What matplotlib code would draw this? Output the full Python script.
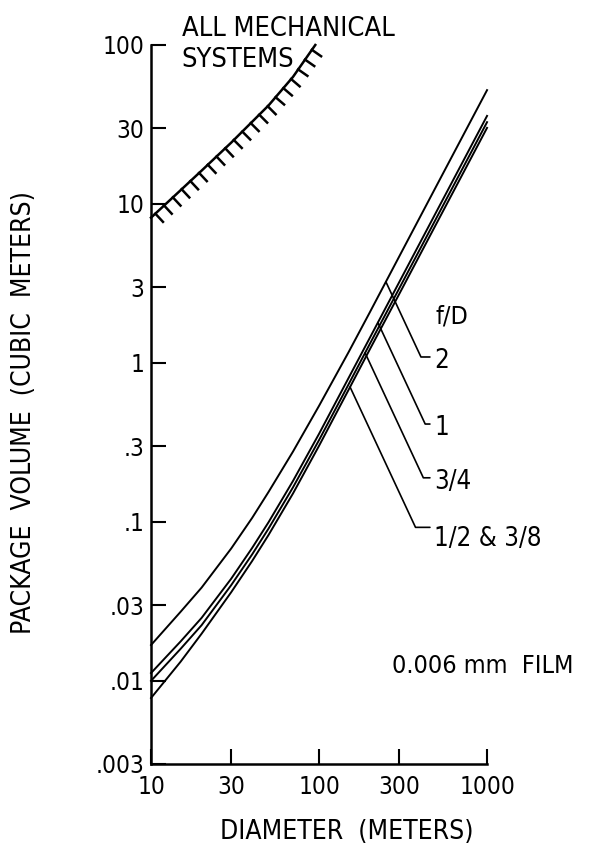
import numpy as np
import matplotlib
matplotlib.use("Agg")
import matplotlib.pyplot as plt
import matplotlib.patheffects as pe

# package volume (m^3) vs antenna diameter (m), 0.006 mm film
diameter = [10, 15, 20, 30, 40, 50, 70, 100, 150, 200, 300, 500, 1000]
vol_fd2 = [0.0168, 0.0272, 0.0386, 0.068, 0.106, 0.154, 0.277, 0.537, 1.17,
           2.07, 4.67, 13.0, 52.0]
vol_fd1 = [0.0112, 0.0177, 0.0249, 0.0439, 0.0686, 0.0993, 0.181, 0.358, 0.805,
           1.43, 3.22, 8.95, 35.8]
vol_fd34 = [0.0100, 0.0159, 0.0224, 0.0400, 0.0625, 0.0906, 0.165, 0.327, 0.734,
            1.31, 2.94, 8.17, 32.7]
vol_fd12 = [0.0078, 0.0132, 0.0198, 0.0361, 0.0568, 0.0826, 0.151, 0.301, 0.678,
            1.21, 2.71, 7.53, 30.1]

# lower bound for all mechanical systems
mech_diameter = [10, 15, 20, 30, 50, 70, 95]
mech_volume = [8.2, 12.2, 16.2, 24.3, 41.6, 63, 100]

curve_labels = ["2", "1", "3/4", "1/2 & 3/8"]
leader_diameter = [250, 224, 188, 153]
label_volume = [1.03, 0.39, 0.179, 0.078]

x_ticks = [10, 30, 100, 300, 1000]
x_ticklabels = ["10", "30", "100", "300", "1000"]
y_ticks = [0.003, 0.01, 0.03, 0.1, 0.3, 1, 3, 10, 30, 100]
y_ticklabels = [".003", ".01", ".03", ".1", ".3", "1", "3", "10", "30", "100"]

plt.rcParams["font.family"] = ["DejaVu Sans"]
plt.rcParams["font.stretch"] = "condensed"

fig = plt.figure(figsize=(5.89, 8.44), dpi=100)
ax = fig.add_axes([0.2564, 0.0948, 0.5705, 0.8519])

curves = [vol_fd2, vol_fd1, vol_fd34, vol_fd12]
for vol in curves:
    ax.plot(diameter, vol, color="black", lw=1.4, clip_on=False)

ax.plot(mech_diameter, mech_volume, color="black", lw=1.8, clip_on=False,
        path_effects=[pe.withTickedStroke(spacing=8.5, angle=-90, length=0.95)])

ax.set_xscale("log")
ax.set_yscale("log")
ax.set_xlim(10, 1000)
ax.set_ylim(0.003, 100)
ax.set_xticks(x_ticks)
ax.set_xticklabels(x_ticklabels)
ax.set_yticks(y_ticks)
ax.set_yticklabels(y_ticklabels)
ax.minorticks_off()
ax.tick_params(direction="in", length=11, width=1.5, labelsize=17.5)
ax.tick_params(axis="x", pad=8)
ax.tick_params(axis="y", pad=5)
for side in ["top", "right"]:
    ax.spines[side].set_visible(False)
for side in ["left", "bottom"]:
    ax.spines[side].set_linewidth(1.8)

# leader lines from each curve to its f/D label
label_x = 484
for vol, lab, d, ly in zip(curves, curve_labels, leader_diameter, label_volume):
    y_on = 10 ** np.interp(np.log10(d), np.log10(diameter), np.log10(vol))
    rel_y = 0.95 if lab.startswith("1/2") else 0.65
    ax.annotate(lab, xy=(d, y_on), xytext=(label_x, ly), ha="left", va="center",
                fontsize=18.5, annotation_clip=False,
                arrowprops=dict(arrowstyle="-", lw=1.2, color="black",
                                shrinkA=1, shrinkB=0, relpos=(0, rel_y),
                                connectionstyle="angle,angleA=0,angleB=-65,rad=0"))

ax.text(617, 1.95, "f/D", ha="center", va="center", fontsize=18)
ax.text(272, 0.0124, "0.006 mm  FILM", ha="left", va="center", fontsize=18)
ax.text(15.2, 100.7, "ALL MECHANICAL\nSYSTEMS", ha="left", va="center",
        fontsize=19.5, linespacing=1.25)

fig.text(0.041, 0.511, "PACKAGE  VOLUME  (CUBIC  METERS)", rotation=90,
         ha="center", va="center", fontsize=19)
fig.text(0.588, 0.0142, "DIAMETER  (METERS)", ha="center", va="center", fontsize=19)

fig.savefig("out.png", dpi=100)
